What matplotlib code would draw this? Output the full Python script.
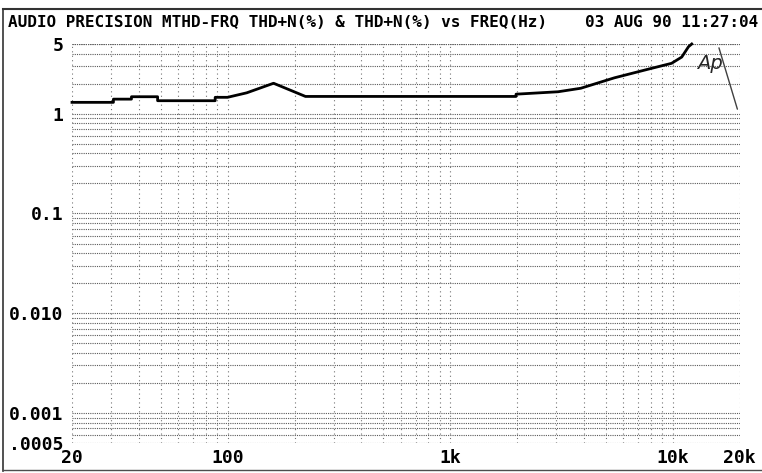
import matplotlib.pyplot as plt
import numpy as np

# THD+N (%) vs frequency
freq = [20, 30.7, 30.7, 37, 37, 48.5, 48.5, 88, 88, 100, 122, 161, 224,
        1980, 1980, 3060, 3870, 5480, 7800, 9900, 11000, 11800, 12200]
thd = [1.30, 1.30, 1.40, 1.40, 1.48, 1.48, 1.35, 1.35, 1.46, 1.46, 1.62, 2.02, 1.49,
       1.49, 1.57, 1.66, 1.80, 2.29, 2.80, 3.20, 3.70, 4.70, 5.0]

x_ticks = [20, 100, 1000, 10000, 20000]
x_labels = ['20', '100', '1k', '10k', '20k']
y_ticks = [5, 1, 0.1, 0.01, 0.001, 0.0005]
y_labels = ['5', '1', '0.1', '0.010', '0.001', '.0005']

title_left = 'AUDIO PRECISION MTHD-FRQ THD+N(%) & THD+N(%) vs FREQ(Hz)'
title_right = '03 AUG 90 11:27:04'

mono = ['DejaVu Sans Mono']

fig = plt.figure(figsize=(7.62, 4.73), dpi=100)
ax = fig.add_axes([0.0945, 0.0634, 0.876, 0.8436])

ax.set_xscale('log')
ax.set_yscale('log')
ax.set_xlim(20, 20000)
ax.set_ylim(0.0005, 5)

# dotted grid, the way the plotter draws it
ygrid = [m * 10.0 ** e for e in range(-4, 1) for m in range(1, 10)]
ygrid = [v for v in ygrid if 0.0005 <= v <= 5] + [5]
xgrid = [m * 10.0 ** e for e in range(1, 5) for m in range(1, 10)]
xgrid = [v for v in xgrid if 20 <= v <= 20000]
for v in ygrid:
    ax.axhline(v, color='0.35', lw=0.8, ls=(0, (1, 1)), zorder=1)
for v in xgrid:
    ax.axvline(v, color='0.45', lw=0.8, ls=(0, (1, 3)), zorder=1)

ax.plot(freq, thd, color='black', lw=2.0, zorder=3, clip_on=False)

for s in ax.spines.values():
    s.set_visible(False)
ax.minorticks_off()
ax.set_xticks(x_ticks)
ax.set_xticklabels(x_labels)
ax.set_yticks(y_ticks)
ax.set_yticklabels(y_labels)
ax.tick_params(length=0, labelsize=13, pad=6)
ax.tick_params(axis='x', pad=4)
for t in ax.get_xticklabels() + ax.get_yticklabels():
    t.set_family(mono)
    t.set_weight('bold')

# handwritten "Ap" mark
ax.text(0.955, 0.95, 'Ap', transform=ax.transAxes, fontsize=14, style='italic',
        family='DejaVu Sans', ha='center', va='center', color='0.15')
ax.annotate('', xy=(0.998, 0.83), xytext=(0.968, 0.997),
            xycoords='axes fraction', textcoords='axes fraction',
            arrowprops=dict(arrowstyle='-', color='0.25', lw=1.0))

fig.text(0.011, 0.953, title_left, fontsize=11.5, family=mono, weight='bold',
         ha='left', va='center')
fig.text(0.995, 0.953, title_right, fontsize=11.5, family=mono, weight='bold',
         ha='right', va='center')

# page frame
fig.add_artist(plt.Line2D([0.004, 0.004], [0.005, 0.98], color='0.2', lw=1.2))
fig.add_artist(plt.Line2D([0.004, 1.0], [0.98, 0.98], color='0.2', lw=1.5))
fig.add_artist(plt.Line2D([0.004, 1.0], [0.006, 0.006], color='0.3', lw=1.0))

plt.savefig('out.png', dpi=100)
